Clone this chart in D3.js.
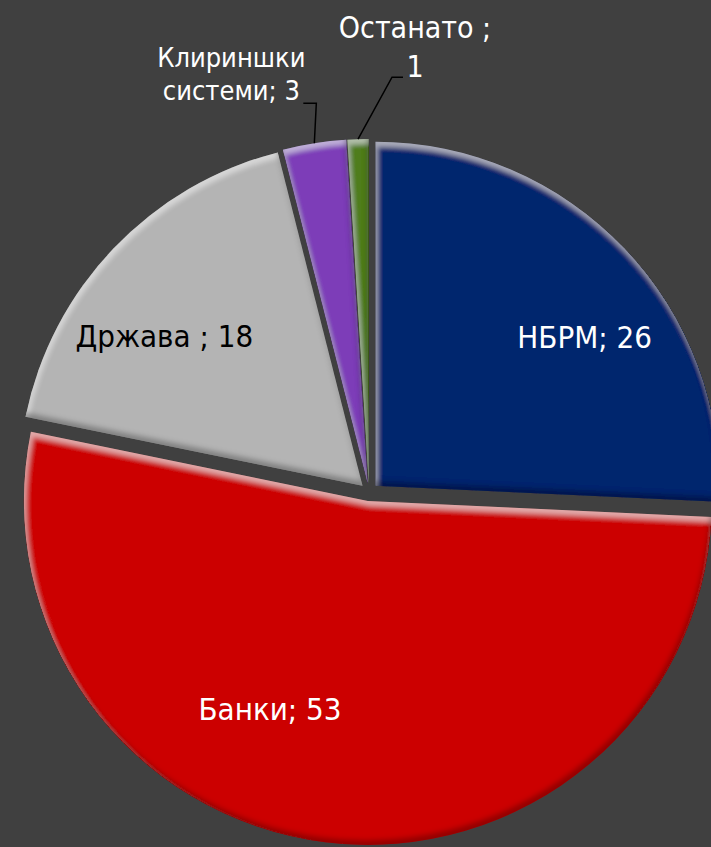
<!DOCTYPE html>
<html>
<head>
<meta charset="utf-8">
<script src="https://cdn.jsdelivr.net/npm/d3@7"></script>
<style>
  body { margin: 0; background: #404040; }
  svg { display: block; }
</style>
</head>
<body>
<script>
// data
const categories = ["НБРМ", "Банки", "Држава ", "Клириншки системи", "Останато "];
const values = [26, 53, 18, 3, 1];

const width = 711;
const height = 847;
const radius = 344;
const explode = 9;
const cx = 369;
const cy = 492;

const color = d3.scaleOrdinal()
	.domain(categories)
	.range(["#03286e", "#cc0000", "#b4b4b4", "#7d3db8", "#4f7d1e"]);

const textColor = d3.scaleOrdinal()
	.domain(categories)
	.range(["#fff", "#fff", "#000", "#fff", "#fff"]);

const pie = d3.pie().sort(null).value(d => d.value);
const arc = d3.arc().innerRadius(0).outerRadius(radius);

const data = categories.map((c, i) => ({category: c, value: values[i]}));
const arcs = pie(data);

const svg = d3.select("body")
	.append("svg")
	.attr("width", width)
	.attr("height", height);

// bevel look: light rim on top edges, dark rim on bottom edges
const defs = svg.append("defs");
const filter = defs.append("filter")
	.attr("id", "bevel")
	.attr("x", "-5%").attr("y", "-5%")
	.attr("width", "110%").attr("height", "110%");
filter.append("feGaussianBlur").attr("in", "SourceAlpha").attr("stdDeviation", 2.5).attr("result", "blur");
filter.append("feOffset").attr("in", "blur").attr("dx", 2).attr("dy", 5).attr("result", "down");
filter.append("feComposite").attr("in", "SourceAlpha").attr("in2", "down")
	.attr("operator", "arithmetic").attr("k2", 1).attr("k3", -1).attr("result", "topRim");
filter.append("feFlood").attr("flood-color", "#fff").attr("flood-opacity", 0.4).attr("result", "white");
filter.append("feComposite").attr("in", "white").attr("in2", "topRim").attr("operator", "in").attr("result", "light");
filter.append("feOffset").attr("in", "blur").attr("dx", -2).attr("dy", -5).attr("result", "up");
filter.append("feComposite").attr("in", "SourceAlpha").attr("in2", "up")
	.attr("operator", "arithmetic").attr("k2", 1).attr("k3", -1).attr("result", "bottomRim");
filter.append("feFlood").attr("flood-color", "#000").attr("flood-opacity", 0.5).attr("result", "black");
filter.append("feComposite").attr("in", "black").attr("in2", "bottomRim").attr("operator", "in").attr("result", "dark");
const merge = filter.append("feMerge");
merge.append("feMergeNode").attr("in", "SourceGraphic");
merge.append("feMergeNode").attr("in", "light");
merge.append("feMergeNode").attr("in", "dark");

function midAngle(d) {
	return (d.startAngle + d.endAngle) / 2;
}

function apex(d) {
	const a = midAngle(d);
	return [cx + explode * Math.sin(a), cy - explode * Math.cos(a)];
}

const slices = svg.append("g")
	.selectAll("g")
	.data(arcs)
	.join("g")
	.attr("transform", d => `translate(${apex(d)[0]},${apex(d)[1]})`);

slices.append("path")
	.attr("d", arc)
	.attr("fill", d => color(d.data.category))
	.attr("filter", "url(#bevel)");

// inside labels
const insideNudge = {
	"НБРМ": [35, 28],
	"Банки": [-68, -20],
	"Држава ": [-24, 27]
};

function labelText(d) {
	return `${d.data.category}; ${d.data.value}`;
}

slices.filter(d => insideNudge[d.data.category])
	.append("text")
	.attr("x", d => {
		const a = midAngle(d);
		return radius * 0.7 * Math.sin(a) + insideNudge[d.data.category][0];
	})
	.attr("y", d => {
		const a = midAngle(d);
		return -radius * 0.7 * Math.cos(a) + insideNudge[d.data.category][1];
	})
	.attr("text-anchor", "middle")
	.attr("font-family", "'DejaVu Sans Condensed', 'DejaVu Sans', sans-serif")
	.attr("font-size", 31)
	.attr("fill", d => textColor(d.data.category))
	.text(labelText);

// outside labels with leader lines
const outside = {
	"Клириншки системи": {elbow: [2, -40], tail: -13, tx: -85, lineGap: 33, ty: -3, size: 27},
	"Останато ": {elbow: [34, -62], tail: 11, tx: 23, lineGap: 39, ty: 0, size: 30}
};

const outerLabels = svg.append("g");

arcs.filter(d => outside[d.data.category]).forEach(d => {
	const o = outside[d.data.category];
	const [ax, ay] = apex(d);
	const a = midAngle(d);
	const p0 = [ax + radius * Math.sin(a), ay - radius * Math.cos(a)];
	const p1 = [p0[0] + o.elbow[0], p0[1] + o.elbow[1]];
	const p2 = [p1[0] + o.tail, p1[1]];

	outerLabels.append("path")
		.attr("d", d3.line()([p0, p1, p2]))
		.attr("fill", "none")
		.attr("stroke", "#000")
		.attr("stroke-width", 1.5);

	// wrap the label text to a max width, as the chart does
	const words = labelText(d).split(" ");
	const text = outerLabels.append("text")
		.attr("text-anchor", "middle")
		.attr("font-family", "'DejaVu Sans Condensed', 'DejaVu Sans', sans-serif")
		.attr("font-size", o.size)
		.attr("fill", textColor(d.data.category));
	const lines = [];
	let line = "";
	words.forEach(w => {
		const test = line ? line + " " + w : w;
		text.text(test);
		if (line && text.node().getComputedTextLength() > 160) {
			lines.push(line);
			line = w;
		} else {
			line = test;
		}
	});
	lines.push(line);
	text.text(null);
	const x = p1[0] + o.tx;
	const lastY = p1[1] + o.ty;
	lines.forEach((l, i) => {
		text.append("tspan")
			.attr("x", x)
			.attr("y", lastY - (lines.length - 1 - i) * o.lineGap)
			.text(l);
	});
});
</script>
</body>
</html>
